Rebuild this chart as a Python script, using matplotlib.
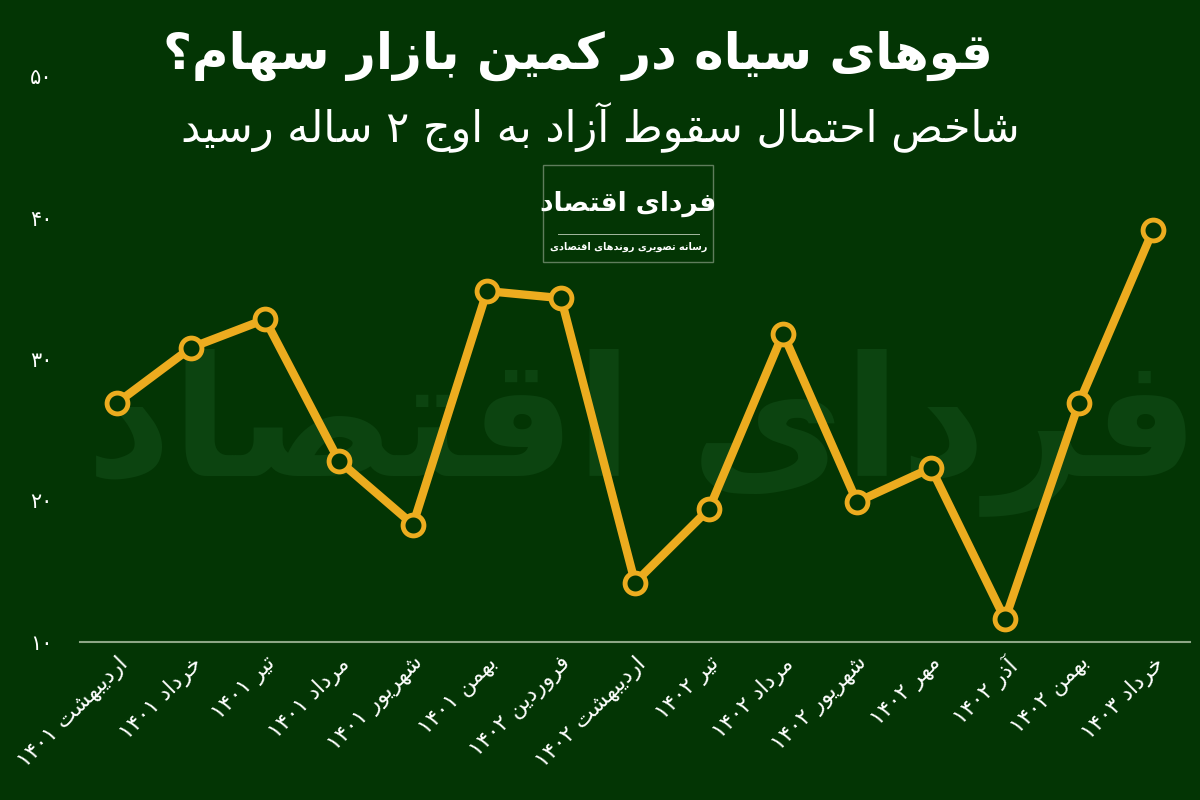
import matplotlib
matplotlib.use('Agg')
import matplotlib.pyplot as plt
import matplotlib.transforms as mtransforms
from matplotlib.patches import Rectangle
import numpy as np

# داده ها
months = ['اردیبهشت ۱۴۰۱', 'خرداد ۱۴۰۱', 'تیر ۱۴۰۱', 'مرداد ۱۴۰۱', 'شهریور ۱۴۰۱',
          'بهمن ۱۴۰۱', 'فروردین ۱۴۰۲', 'اردیبهشت ۱۴۰۲', 'تیر ۱۴۰۲', 'مرداد ۱۴۰۲',
          'شهریور ۱۴۰۲', 'مهر ۱۴۰۲', 'آذر ۱۴۰۲', 'بهمن ۱۴۰۲', 'خرداد ۱۴۰۳']
values = [26.9, 30.8, 32.8, 22.8, 18.3, 34.8, 34.3, 14.2, 19.4, 31.8, 19.9, 22.3, 11.6, 26.9, 39.1]
yticks = [10, 20, 30, 40, 50]
ytick_labels = ['۱۰', '۲۰', '۳۰', '۴۰', '۵۰']

title = 'قوهای سیاه در کمین بازار سهام؟'
subtitle = 'شاخص احتمال سقوط آزاد به اوج ۲ ساله رسید'
logo_main = 'فردای اقتصاد'
logo_sub = 'رسانه تصویری روندهای اقتصادی'

# presentation forms: isolated, final, initial, medial
forms = {
    'ا': ('\uFE8D', '\uFE8E', None, None),
    'آ': ('\uFE81', '\uFE82', None, None),
    'ب': ('\uFE8F', '\uFE90', '\uFE91', '\uFE92'),
    'پ': ('\uFB56', '\uFB57', '\uFB58', '\uFB59'),
    'ت': ('\uFE95', '\uFE96', '\uFE97', '\uFE98'),
    'ث': ('\uFE99', '\uFE9A', '\uFE9B', '\uFE9C'),
    'ج': ('\uFE9D', '\uFE9E', '\uFE9F', '\uFEA0'),
    'چ': ('\uFB7A', '\uFB7B', '\uFB7C', '\uFB7D'),
    'ح': ('\uFEA1', '\uFEA2', '\uFEA3', '\uFEA4'),
    'خ': ('\uFEA5', '\uFEA6', '\uFEA7', '\uFEA8'),
    'د': ('\uFEA9', '\uFEAA', None, None),
    'ذ': ('\uFEAB', '\uFEAC', None, None),
    'ر': ('\uFEAD', '\uFEAE', None, None),
    'ز': ('\uFEAF', '\uFEB0', None, None),
    'ژ': ('\uFB8A', '\uFB8B', None, None),
    'س': ('\uFEB1', '\uFEB2', '\uFEB3', '\uFEB4'),
    'ش': ('\uFEB5', '\uFEB6', '\uFEB7', '\uFEB8'),
    'ص': ('\uFEB9', '\uFEBA', '\uFEBB', '\uFEBC'),
    'ض': ('\uFEBD', '\uFEBE', '\uFEBF', '\uFEC0'),
    'ط': ('\uFEC1', '\uFEC2', '\uFEC3', '\uFEC4'),
    'ظ': ('\uFEC5', '\uFEC6', '\uFEC7', '\uFEC8'),
    'ع': ('\uFEC9', '\uFECA', '\uFECB', '\uFECC'),
    'غ': ('\uFECD', '\uFECE', '\uFECF', '\uFED0'),
    'ف': ('\uFED1', '\uFED2', '\uFED3', '\uFED4'),
    'ق': ('\uFED5', '\uFED6', '\uFED7', '\uFED8'),
    'ک': ('\uFB8E', '\uFB8F', '\uFB90', '\uFB91'),
    'گ': ('\uFB92', '\uFB93', '\uFB94', '\uFB95'),
    'ل': ('\uFEDD', '\uFEDE', '\uFEDF', '\uFEE0'),
    'م': ('\uFEE1', '\uFEE2', '\uFEE3', '\uFEE4'),
    'ن': ('\uFEE5', '\uFEE6', '\uFEE7', '\uFEE8'),
    'ه': ('\uFEE9', '\uFEEA', '\uFEEB', '\uFEEC'),
    'و': ('\uFEED', '\uFEEE', None, None),
    'ی': ('\uFBFC', '\uFBFD', '\uFBFE', '\uFBFF'),
}


def shape(s):
    out = []
    for i, c in enumerate(s):
        if c not in forms:
            out.append(c)
            continue
        prev = s[i - 1] if i > 0 else ''
        nxt = s[i + 1] if i + 1 < len(s) else ''
        joins_prev = prev in forms and forms[prev][2] is not None
        joins_next = forms[c][2] is not None and nxt in forms
        f = forms[c]
        if joins_prev and joins_next:
            out.append(f[3])
        elif joins_prev:
            out.append(f[1])
        elif joins_next:
            out.append(f[2])
        else:
            out.append(f[0])
    # visual order: reverse, keeping digit runs left-to-right
    runs = []
    for c in ''.join(out):
        d = c.isdigit()
        if runs and runs[-1][0] == d:
            runs[-1][1] += c
        else:
            runs.append([d, c])
    res = ''
    for d, r in reversed(runs):
        res += r if d else r[::-1]
    return res


bg = '#033504'
line_col = '#ECAC1F'

fig = plt.figure(figsize=(12, 8), dpi=100, facecolor=bg)
ax = fig.add_axes([0.0667, 0.1975, 0.925, 0.7075])
ax.set_facecolor('none')

# watermark
fig.text(0.535, 0.46, shape(logo_main), fontsize=120, fontweight='bold', color='#0c4410',
         ha='center', va='center', zorder=-1)

x = np.arange(len(months))
ax.plot(x, values, color=line_col, linewidth=6, marker='o', markersize=15,
        markerfacecolor=bg, markeredgecolor=line_col, markeredgewidth=3.5,
        solid_joinstyle='miter', zorder=3)

ax.set_xlim(-0.5, 14.5)
ax.set_ylim(10, 50)
ax.set_yticks(yticks)
ax.set_yticklabels(ytick_labels, fontsize=15, color='white')
ax.set_xticks(x)
ax.set_xticklabels([shape(m) for m in months], fontsize=16, color='white',
                   rotation=45, ha='right', rotation_mode='anchor')
offset = mtransforms.ScaledTranslation(-0.38, 0, fig.dpi_scale_trans)
for lbl in ax.get_xticklabels():
    lbl.set_transform(lbl.get_transform() + offset)
ax.tick_params(axis='both', length=0)
ax.tick_params(axis='y', pad=20)
ax.tick_params(axis='x', pad=8)
for s in ['top', 'right', 'left']:
    ax.spines[s].set_visible(False)
ax.spines['bottom'].set_color('#8DA686')
ax.spines['bottom'].set_linewidth(1.5)

fig.text(0.482, 0.93, shape(title), fontsize=36, fontweight='bold', color='white',
         ha='center', va='center')
fig.text(0.5, 0.84, shape(subtitle), fontsize=31, color='white', ha='center', va='center')

# logo box
fig.patches.append(Rectangle((0.4525, 0.672), 0.142, 0.122, transform=fig.transFigure,
                             facecolor=bg, edgecolor='#5f7d5c', linewidth=1, zorder=1))
fig.text(0.5235, 0.745, shape(logo_main), fontsize=19, fontweight='bold', color='white',
         ha='center', va='center', zorder=2)
fig.patches.append(Rectangle((0.465, 0.706), 0.118, 0.0015, transform=fig.transFigure,
                             facecolor='#9fb59b', edgecolor='none', zorder=2))
fig.text(0.5235, 0.692, shape(logo_sub), fontsize=7, fontweight='bold', color='white',
         ha='center', va='center', zorder=2)

fig.savefig('out.png', dpi=100, facecolor=bg)
